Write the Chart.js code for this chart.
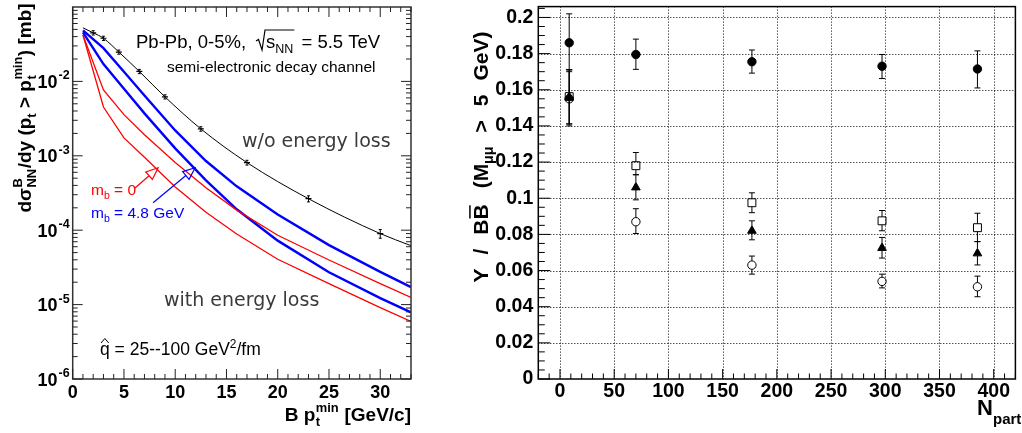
<!DOCTYPE html>
<html>
<head>
<meta charset="utf-8">
<script src="https://cdn.jsdelivr.net/npm/chart.js@4.4.1/dist/chart.umd.min.js"></script>
<style>
html, body { margin: 0; padding: 0; background: #fff; }
#wrap { position: relative; width: 1022px; height: 433px; overflow: hidden; }
#cL { position: absolute; left: 0; top: 0; }
#cR { position: absolute; left: 420px; top: 0; }
</style>
</head>
<body>
<div id="wrap">
  <canvas id="cL" width="420" height="433"></canvas>
  <canvas id="cR" width="602" height="433"></canvas>
</div>
<script>
// ---- left panel: B cross section above pt min ----
const ptX = [2, 3, 4.5, 6.5, 9, 12.5, 17, 23, 30];
const noLoss = [0.045, 0.038, 0.0248, 0.0136, 0.0062, 0.0023, 0.00081, 0.000265, 0.00009];
const noLossErr = [0.003, 0.0025, 0.0016, 0.0009, 0.0004, 0.00016, 0.00006, 0.000025, 0.000012];
const curveX = [1, 2, 3, 4.5, 6.5, 9, 12.5, 17, 23, 30, 33];
const noLossCurve = [0.0525, 0.045, 0.038, 0.0248, 0.0136, 0.0062, 0.0023, 0.00081, 0.000265, 0.00009, 0.000062];
const lossX = [1, 3, 5, 7, 10, 13, 16, 20, 25, 30, 33];
const redHi = [0.042, 0.00769, 0.00357, 0.00192, 8.13e-4, 3.72e-4, 1.86e-4, 8.55e-5, 3.98e-5, 1.91e-5, 1.25e-5];
const redLo = [0.042, 0.00453, 0.00174, 9.55e-4, 3.80e-4, 1.74e-4, 8.91e-5, 4.07e-5, 1.91e-5, 9.12e-6, 5.94e-6];
const blueHi = [0.0484, 0.028, 0.0135, 0.00646, 0.00219, 8.51e-4, 3.89e-4, 1.62e-4, 6.31e-5, 2.75e-5, 1.72e-5];
const blueLo = [0.0457, 0.0171, 0.00794, 0.00372, 0.00126, 4.68e-4, 1.91e-4, 7.24e-5, 2.72e-5, 1.22e-5, 7.85e-6];
const xTicksL = [0, 5, 10, 15, 20, 25, 30];
const decades = [-6, -5, -4, -3, -2];

// ---- right panel: Upsilon / BB vs Npart ----
const npart = [8.5, 70, 177, 297, 385];
const fullDots = [0.186, 0.1795, 0.1755, 0.173, 0.1715];
const fullUp = [0.016, 0.0085, 0.0065, 0.0065, 0.010];
const fullDn = [0.015, 0.0082, 0.0063, 0.0068, 0.0105];
const squares = [0.1562, 0.118, 0.0975, 0.0875, 0.0837];
const sqUp = [0.015, 0.0073, 0.0055, 0.0057, 0.008];
const sqDn = [0.015, 0.005, 0.0055, 0.0055, 0.0077];
const triangles = [0.156, 0.106, 0.082, 0.0725, 0.0695];
const triUp = [0.015, 0.007, 0.0055, 0.0058, 0.0065];
const triDn = [0.015, 0.0069, 0.005, 0.0056, 0.0064];
const rings = [0.155, 0.087, 0.063, 0.054, 0.051];
const ringUp = [0.015, 0.0072, 0.005, 0.004, 0.0059];
const ringDn = [0.015, 0.0065, 0.005, 0.0036, 0.0055];
const xTicksR = [0, 50, 100, 150, 200, 250, 300, 350, 400];
const yTicksR = [0, 0.02, 0.04, 0.06, 0.08, 0.1, 0.12, 0.14, 0.16, 0.18, 0.2];

const SANS = "'Liberation Sans', Arial, Helvetica, sans-serif";
const SOFT = "'DejaVu Sans', sans-serif";

function seg(ctx, x1, y1, x2, y2) {
  ctx.beginPath(); ctx.moveTo(x1, y1); ctx.lineTo(x2, y2); ctx.stroke();
}

// text with sub/superscripts: parts = [text, mode, sup, sub]
function rich(ctx, parts, x, y, size, o) {
  const wt = o.weight || '';
  const fam = o.family || SANS;
  const small = size * 0.68;
  const f = s => wt + ' ' + s + 'px ' + fam;
  const ws = parts.map(p => {
    if (p[1] === 'gap') return p[2];
    if (p[1] === 'sup' || p[1] === 'sub') { ctx.font = f(small); return ctx.measureText(p[0]).width; }
    if (p[1] === 'pair') { ctx.font = f(small); return Math.max(ctx.measureText(p[2]).width, ctx.measureText(p[3]).width) + 1; }
    ctx.font = f(size); return ctx.measureText(p[0]).width;
  });
  const total = ws.reduce((a, b) => a + b, 0);
  let cx = o.align === 'center' ? x - total / 2 : o.align === 'right' ? x - total : x;
  ctx.textAlign = 'left';
  ctx.textBaseline = 'alphabetic';
  parts.forEach((p, i) => {
    if (p[1] === 'gap') { /* spacing only */ }
    else if (p[1] === 'sup') { ctx.font = f(small); ctx.fillText(p[0], cx, y - size * 0.42); }
    else if (p[1] === 'sub') { ctx.font = f(small); ctx.fillText(p[0], cx, y + size * 0.25); }
    else if (p[1] === 'pair') {
      ctx.font = f(small);
      ctx.fillText(p[2], cx + 0.5, y - size * 0.45);
      ctx.fillText(p[3], cx + 0.5, y + size * 0.28);
    } else {
      ctx.font = f(size); ctx.fillText(p[0], cx, y);
      if (p[1] === 'bar') { ctx.lineWidth = 1.5; seg(ctx, cx + 1, y - size * 0.86, cx + ws[i] - 1, y - size * 0.86); }
    }
    cx += ws[i];
  });
  return total;
}

function arrow(ctx, x1, y1, x2, y2, color) {
  const ang = Math.atan2(y2 - y1, x2 - x1);
  const L = 12, W = 5;
  const bx = x2 - L * Math.cos(ang), by = y2 - L * Math.sin(ang);
  ctx.strokeStyle = color; ctx.lineWidth = 1.2;
  seg(ctx, x1, y1, bx, by);
  ctx.beginPath();
  ctx.moveTo(x2, y2);
  ctx.lineTo(bx + W * Math.sin(ang), by - W * Math.cos(ang));
  ctx.lineTo(bx - W * Math.sin(ang), by + W * Math.cos(ang));
  ctx.closePath();
  ctx.stroke();
}

function errBars(chart, idx, up, dn, hUp, hDn, cap) {
  const ctx = chart.ctx, ys = chart.scales.y;
  const meta = chart.getDatasetMeta(idx);
  const vals = chart.data.datasets[idx].data;
  ctx.save();
  ctx.strokeStyle = '#000'; ctx.lineWidth = 1;
  meta.data.forEach((pt, k) => {
    const v = vals[k].y;
    const yt = ys.getPixelForValue(v + up[k]);
    const yb = ys.getPixelForValue(v - dn[k]);
    if (pt.y - hUp > yt) seg(ctx, pt.x, pt.y - hUp, pt.x, yt);
    if (pt.y + hDn < yb) seg(ctx, pt.x, pt.y + hDn, pt.x, yb);
    seg(ctx, pt.x - cap, yt, pt.x + cap, yt);
    seg(ctx, pt.x - cap, yb, pt.x + cap, yb);
  });
  ctx.restore();
}

const leftDeco = {
  id: 'leftDeco',
  afterDatasetsDraw(chart) {
    errBars(chart, 5, noLossErr, noLossErr, 0, 0, 1.5);
  },
  afterDraw(chart) {
    const { ctx, chartArea: a, scales: { x, y } } = chart;
    ctx.save();
    ctx.strokeStyle = '#333'; ctx.lineWidth = 1.5;
    ctx.strokeRect(a.left, a.top, a.right - a.left, a.bottom - a.top);
    ctx.lineWidth = 1; ctx.strokeStyle = '#222';
    for (let v = 0; v <= 33; v++) {
      const px = x.getPixelForValue(v);
      const len = v % 5 === 0 ? 10 : 5;
      seg(ctx, px, a.bottom, px, a.bottom - len);
      seg(ctx, px, a.top, px, a.top + len);
    }
    for (let e = -6; e <= -2; e++) {
      for (let m = 1; m <= 9; m++) {
        const py = y.getPixelForValue(m * Math.pow(10, e));
        const len = m === 1 ? 10 : 5;
        seg(ctx, a.left, py, a.left + len, py);
        seg(ctx, a.right, py, a.right - len, py);
      }
    }
    // log labels
    ctx.fillStyle = '#000';
    decades.forEach(e => {
      const py = y.getPixelForValue(Math.pow(10, e));
      ctx.textAlign = 'right'; ctx.textBaseline = 'alphabetic';
      ctx.font = 'bold 18px ' + SANS;
      ctx.fillText('10', 57.5, py + 6.5);
      ctx.textAlign = 'left';
      ctx.font = 'bold 12.5px ' + SANS;
      ctx.fillText(String(e), 58.5, py - 2);
    });
    // axis titles
    rich(ctx, [['B p'], [null, 'pair', 'min', 't'], [' [GeV/c]']], 411, 421, 19, { weight: 'bold', align: 'right' });
    ctx.save();
    ctx.translate(31, 108); ctx.rotate(-Math.PI / 2);
    rich(ctx, [['dσ'], [null, 'pair', 'B', 'NN'], ['/dy (p'], ['t', 'sub'], [' > p'], [null, 'pair', 'min', 't'], [') [mb]']], 0, 0, 19, { weight: 'bold', align: 'center' });
    ctx.restore();

    // header with sqrt(s_NN)
    ctx.fillStyle = '#000';
    let cx = 136;
    const by = 48;
    ctx.font = '18.5px ' + SANS; ctx.textAlign = 'left';
    ctx.fillText('Pb-Pb, 0-5%,', cx, by);
    cx += ctx.measureText('Pb-Pb, 0-5%,').width + 10;
    const rootStart = cx;
    cx += 10;
    ctx.fillText('s', cx, by);
    cx += ctx.measureText('s').width;
    ctx.font = '12.5px ' + SANS;
    ctx.fillText('NN', cx, by + 4.5);
    cx += ctx.measureText('NN').width + 1;
    ctx.strokeStyle = '#000'; ctx.lineWidth = 1.2;
    ctx.beginPath();
    ctx.moveTo(rootStart, by - 7);
    ctx.lineTo(rootStart + 2.5, by - 8.5);
    ctx.lineTo(rootStart + 6, by + 2);
    ctx.lineTo(rootStart + 9, by - 18);
    ctx.lineTo(cx, by - 18);
    ctx.stroke();
    ctx.font = '18.5px ' + SANS;
    ctx.fillText(' = 5.5 TeV', cx + 2, by);
    ctx.font = '15.5px ' + SANS;
    ctx.fillText('semi-electronic decay channel', 167, 72);

    ctx.fillStyle = '#3a3a3a';
    ctx.font = '19px ' + SOFT;
    ctx.fillText('w/o energy loss', 242, 147);
    ctx.fillText('with energy loss', 164, 306);

    ctx.fillStyle = '#ff0000';
    rich(ctx, [['m'], ['b', 'sub'], [' = 0']], 91, 195, 15.5, { align: 'left' });
    ctx.fillStyle = '#0000ff';
    rich(ctx, [['m'], ['b', 'sub'], [' = 4.8 GeV']], 91, 218, 15.5, { align: 'left' });

    ctx.fillStyle = '#000';
    ctx.font = '17.5px ' + SANS;
    const qw = ctx.measureText('q').width;
    ctx.fillText('q', 100, 355);
    ctx.lineWidth = 1; ctx.strokeStyle = '#000';
    ctx.beginPath();
    ctx.moveTo(101, 343); ctx.lineTo(100 + qw / 2, 338.5); ctx.lineTo(99 + qw, 343);
    ctx.stroke();
    rich(ctx, [[' = 25--100 GeV'], ['2', 'sup'], ['/fm']], 100 + qw, 355, 17.5, { align: 'left' });

    // arrows pointing at curve families
    arrow(ctx, x.getPixelForValue(6.08), y.getPixelForValue(3.7e-4), x.getPixelForValue(8.33), y.getPixelForValue(6.9e-4), '#ff0000');
    arrow(ctx, x.getPixelForValue(7.84), y.getPixelForValue(2.34e-4), x.getPixelForValue(11.94), y.getPixelForValue(6.9e-4), '#0000ff');
    ctx.restore();
  }
};

const pairs = (xs, ys) => xs.map((v, i) => ({ x: v, y: ys[i] }));

new Chart(document.getElementById('cL'), {
  type: 'line',
  data: {
    datasets: [
      { data: pairs(lossX, redHi), borderColor: '#ff0000', borderWidth: 1.3, pointRadius: 0, tension: 0 },
      { data: pairs(lossX, redLo), borderColor: '#ff0000', borderWidth: 1.3, pointRadius: 0, tension: 0 },
      { data: pairs(lossX, blueHi), borderColor: '#0000ff', borderWidth: 2.4, pointRadius: 0, tension: 0 },
      { data: pairs(lossX, blueLo), borderColor: '#0000ff', borderWidth: 2.4, pointRadius: 0, tension: 0 },
      { data: pairs(curveX, noLossCurve), borderColor: '#000', borderWidth: 1, pointRadius: 0, cubicInterpolationMode: 'monotone' },
      { type: 'scatter', data: pairs(ptX, noLoss), pointStyle: 'line', pointRadius: 3, borderColor: '#000', borderWidth: 1.2, showLine: false }
    ]
  },
  options: {
    responsive: false,
    animation: false,
    layout: { padding: { left: 0, top: 7, right: 9, bottom: 0 } },
    plugins: { legend: { display: false }, tooltip: { enabled: false } },
    scales: {
      x: {
        type: 'linear', min: 0, max: 33,
        grid: { display: false, drawTicks: false }, border: { display: false },
        afterBuildTicks: s => { s.ticks = xTicksL.map(v => ({ value: v })); },
        afterFit: s => { s.height = 54; s.paddingLeft = 0; s.paddingRight = 0; },
        ticks: { font: { family: SANS, size: 18, weight: 'bold' }, color: '#000', padding: 3, maxRotation: 0, autoSkip: false }
      },
      y: {
        type: 'logarithmic', min: 1e-6, max: 0.1,
        grid: { display: false, drawTicks: false }, border: { display: false },
        ticks: { display: false },
        afterFit: s => { s.width = 72.7; s.paddingTop = 0; s.paddingBottom = 0; }
      }
    }
  },
  plugins: [leftDeco]
});

const rightDeco = {
  id: 'rightDeco',
  beforeDatasetsDraw(chart) {
    const { ctx, chartArea: a, scales: { x, y } } = chart;
    ctx.save();
    ctx.strokeStyle = '#000'; ctx.lineWidth = 1; ctx.setLineDash([1, 2]);
    xTicksR.forEach(v => { const px = Math.round(x.getPixelForValue(v)) + 0.5; seg(ctx, px, a.top, px, a.bottom); });
    yTicksR.forEach(v => { if (v > 0) { const py = Math.round(y.getPixelForValue(v)) + 0.5; seg(ctx, a.left, py, a.right, py); } });
    ctx.restore();
  },
  afterDatasetsDraw(chart) {
    errBars(chart, 0, fullUp, fullDn, 4.2, 4.2, 3);
    errBars(chart, 1, sqUp, sqDn, 4, 4, 3);
    errBars(chart, 2, triUp, triDn, 5, 2.5, 3);
    errBars(chart, 3, ringUp, ringDn, 4.2, 4.2, 3);
  },
  afterDraw(chart) {
    const { ctx, chartArea: a, scales: { x, y } } = chart;
    ctx.save();
    ctx.strokeStyle = '#000'; ctx.lineWidth = 1.5;
    ctx.strokeRect(a.left, a.top, a.right - a.left, a.bottom - a.top);
    ctx.lineWidth = 1;
    for (let v = -20; v <= 420; v += 10) {
      const px = x.getPixelForValue(v);
      seg(ctx, px, a.bottom, px, a.bottom - (v % 50 === 0 ? 10 : 5.5));
    }
    for (let k = 0; k <= 41; k++) {
      const py = y.getPixelForValue(k * 0.005);
      seg(ctx, a.left, py, a.left + (k % 4 === 0 ? 12 : 6.5), py);
    }
    ctx.fillStyle = '#000';
    ctx.save();
    ctx.translate(68, 157); ctx.rotate(-Math.PI / 2);
    ctx.strokeStyle = '#000';
    rich(ctx, [['Υ'], ['', 'gap', 14], ['/'], ['', 'gap', 14], ['B'], ['B', 'bar'], ['', 'gap', 16],
               ['(M'], ['μμ', 'sub'], ['', 'gap', 14], ['>'], ['', 'gap', 14], ['5'], ['', 'gap', 14], ['GeV)']],
         0, 0, 21, { weight: 'bold', align: 'center' });
    ctx.restore();
    ctx.font = 'bold 22px ' + SANS; ctx.textAlign = 'left';
    ctx.fillText('N', 557, 415);
    ctx.font = 'bold 15px ' + SANS;
    ctx.fillText('part', 573, 424);
    ctx.restore();
  }
};

new Chart(document.getElementById('cR'), {
  type: 'scatter',
  data: {
    datasets: [
      { data: pairs(npart, fullDots), pointStyle: 'circle', pointRadius: 4.2, backgroundColor: '#000', borderColor: '#000', borderWidth: 1 },
      { data: pairs(npart, squares), pointStyle: 'rect', pointRadius: 5.6, backgroundColor: 'rgba(0,0,0,0)', borderColor: '#000', borderWidth: 1 },
      { data: pairs(npart, triangles), pointStyle: 'triangle', pointRadius: 5, backgroundColor: '#000', borderColor: '#000', borderWidth: 1 },
      { data: pairs(npart, rings), pointStyle: 'circle', pointRadius: 4.2, backgroundColor: 'rgba(0,0,0,0)', borderColor: '#000', borderWidth: 1 }
    ]
  },
  options: {
    responsive: false,
    animation: false,
    layout: { padding: { left: 0, top: 4, right: 2, bottom: 0 } },
    plugins: { legend: { display: false }, tooltip: { enabled: false } },
    scales: {
      x: {
        type: 'linear', min: -20, max: 420,
        grid: { display: false, drawTicks: false }, border: { display: false },
        afterBuildTicks: s => { s.ticks = xTicksR.map(v => ({ value: v })); },
        afterFit: s => { s.height = 54; s.paddingLeft = 0; s.paddingRight = 0; },
        ticks: { font: { family: SANS, size: 19.5, weight: 'bold' }, color: '#000', padding: 1, maxRotation: 0, autoSkip: false }
      },
      y: {
        type: 'linear', min: 0, max: 0.206,
        grid: { display: false, drawTicks: false }, border: { display: false },
        afterBuildTicks: s => { s.ticks = yTicksR.map(v => ({ value: v })); },
        afterFit: s => { s.width = 118.3; s.paddingTop = 0; s.paddingBottom = 0; },
        ticks: { font: { family: SANS, size: 19.5, weight: 'bold' }, color: '#000', padding: 5, autoSkip: false,
                 callback: v => String(+v.toFixed(3)) }
      }
    }
  },
  plugins: [rightDeco]
});
</script>
</body>
</html>
